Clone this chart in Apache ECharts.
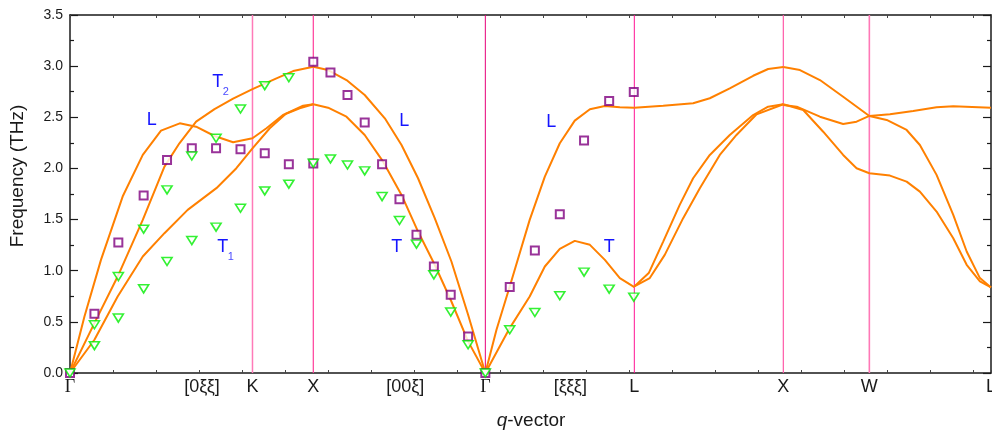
<!DOCTYPE html>
<html>
<head>
<meta charset="utf-8">
<script src="https://cdn.jsdelivr.net/npm/echarts@6/dist/echarts.min.js"></script>
<style>
html,body{margin:0;padding:0;background:#fff;}
#phonon{width:992px;height:435px;}
</style>
</head>
<body>
<div id="phonon"></div>
<script>
// 高对称点 (单位 2π/a)
var symPts   = [0, 1.0607, 1.4142, 2.4142, 3.2802, 4.1463, 4.6463, 5.3534];
var symNames = ['Γ', 'K', 'X', 'Γ', 'L', 'X', 'W', 'L'];
var dirPos   = [0.767, 1.949, 2.908];
var dirNames = ['[0ξξ]', '[00ξ]', '[ξξξ]'];
var vlinePos = [1.0607, 1.4142, 2.4142, 3.2802, 4.1463, 4.6463];

// 计算色散曲线 [q, f(THz)]
// Γ-K-X
var gxL  = [[0,0],[0.084,0.553],[0.180,1.106],[0.306,1.725],[0.423,2.132],[0.529,2.369],[0.638,2.441],[0.733,2.408],[0.840,2.317],[0.948,2.256],[1.0607,2.295],[1.142,2.393],[1.238,2.522],[1.335,2.588],[1.4142,2.627]];
var gxT2 = [[0,0],[0.142,0.488],[0.277,0.943],[0.423,1.497],[0.549,2.018],[0.636,2.246],[0.733,2.457],[0.840,2.580],[0.948,2.682],[1.0607,2.776],[1.200,2.881],[1.297,2.952],[1.4142,2.994]];
var gxT1 = [[0,0],[0.142,0.325],[0.277,0.748],[0.423,1.139],[0.549,1.367],[0.684,1.595],[0.851,1.807],[0.967,2.002],[1.0607,2.197],[1.161,2.393],[1.258,2.539],[1.355,2.613],[1.4142,2.627]];
// X-Γ
var xgL  = [[1.4142,2.994],[1.500,2.962],[1.607,2.864],[1.713,2.718],[1.830,2.490],[1.927,2.229],[2.023,1.904],[2.120,1.514],[2.217,1.090],[2.314,0.569],[2.4142,0]];
var xgT  = [[1.4142,2.627],[1.500,2.594],[1.607,2.506],[1.713,2.327],[1.820,2.066],[1.927,1.741],[2.023,1.383],[2.120,1.058],[2.217,0.699],[2.314,0.309],[2.4142,0]];
// Γ-L
var glL  = [[2.4142,0],[2.479,0.423],[2.556,0.846],[2.672,1.497],[2.760,1.920],[2.847,2.246],[2.934,2.467],[3.022,2.578],[3.109,2.610],[3.196,2.598],[3.2802,2.594]];
var glT  = [[2.4142,0],[2.556,0.439],[2.672,0.748],[2.760,1.041],[2.847,1.214],[2.934,1.292],[3.022,1.253],[3.109,1.106],[3.196,0.928],[3.2802,0.840]];
// L-X
var lxU  = [[3.2802,2.594],[3.448,2.613],[3.622,2.637],[3.719,2.686],[3.835,2.783],[3.971,2.906],[4.058,2.972],[4.1463,2.991]];
var lxA  = [[3.2802,0.846],[3.364,0.977],[3.448,1.285],[3.544,1.644],[3.622,1.904],[3.719,2.132],[3.835,2.327],[3.971,2.522],[4.058,2.604],[4.1463,2.627]];
var lxB  = [[3.2802,0.846],[3.370,0.928],[3.457,1.155],[3.564,1.514],[3.661,1.807],[3.777,2.132],[3.874,2.327],[3.991,2.529],[4.1463,2.627]];
// X-W-L
var xwU  = [[4.1463,2.991],[4.243,2.962],[4.359,2.864],[4.494,2.701],[4.6463,2.513]];
var xwM  = [[4.1463,2.620],[4.224,2.604],[4.359,2.506],[4.494,2.435],[4.572,2.457],[4.6463,2.513]];
var wlF  = [[4.6463,2.513],[4.766,2.529],[4.901,2.562],[5.037,2.598],[5.134,2.607],[5.3534,2.594]];
var wlD  = [[4.6463,2.513],[4.747,2.474],[4.863,2.376],[4.940,2.229],[5.037,1.937],[5.134,1.546],[5.212,1.188],[5.289,0.928],[5.3534,0.836]];
var xwlL = [[4.1463,2.627],[4.262,2.571],[4.378,2.359],[4.494,2.132],[4.572,2.002],[4.6463,1.953],[4.766,1.930],[4.863,1.871],[4.940,1.773],[5.037,1.578],[5.134,1.318],[5.212,1.058],[5.289,0.895],[5.3534,0.836]];

// 实验点
var expL = [[0,0],[0.142,0.579],[0.281,1.276],[0.428,1.735],[0.564,2.083],[0.708,2.197],[0.849,2.197],[0.991,2.188],[1.132,2.148],[1.272,2.041],[1.4142,2.047],[1.4142,3.043],
  [1.514,2.939],[1.613,2.718],[1.713,2.448],[1.814,2.041],[1.915,1.699],[2.014,1.351],[2.115,1.041],[2.213,0.765],[2.314,0.358],[2.4142,0],
  [2.556,0.840],[2.702,1.197],[2.847,1.553],[2.988,2.272],[3.134,2.659],[3.277,2.747]];
var expT = [[0,0],[0.142,0.472],[0.142,0.267],[0.281,0.943],[0.281,0.537],[0.428,1.406],[0.428,0.823],[0.564,1.790],[0.564,1.090],[0.708,2.122],[0.708,1.295],
  [0.849,2.295],[0.849,1.426],[0.991,2.581],[0.991,1.611],[1.132,2.809],[1.132,1.780],[1.272,2.887],[1.272,1.846],[1.4142,2.051],
  [1.514,2.093],[1.613,2.034],[1.713,1.976],[1.814,1.725],[1.915,1.491],[2.014,1.260],[2.115,0.960],[2.213,0.596],[2.314,0.276],[2.4142,0],
  [2.556,0.423],[2.702,0.592],[2.847,0.755],[2.988,0.986],[3.134,0.820],[3.277,0.742]];

// 模式标注 [文字, 下标, q, f]
var modeTags = [['L','',0.475,2.474],['T','2',0.859,2.845],['T','1',0.888,1.229],['L','',1.943,2.459],['T','',1.899,1.229],['L','',2.798,2.449],['T','',3.135,1.233]];

var vlineColors = ['#ff7ab8', '#ff3d9a', '#e6007a', '#ff1493', '#ff5aa8', '#ff78b6'];
var vlineWidths = [1.5, 1.2, 1, 1, 1.2, 1.6];

var chart = echarts.init(document.getElementById('phonon'));

var sans = 'Liberation Sans, Arial, sans-serif';
var axisColor = '#1a1a1a';

var series = [];
vlinePos.forEach(function (q, i) {
    series.push({
        type: 'line', silent: true, symbol: 'none', z: 2,
        data: [[q, 0], [q, 3.5]],
        lineStyle: {color: vlineColors[i], width: vlineWidths[i]}
    });
});
[gxL, gxT2, gxT1, xgL, xgT, glL, glT, lxU, lxA, lxB, xwU, xwM, wlF, wlD, xwlL].forEach(function (d) {
    series.push({
        type: 'line', silent: true, symbol: 'none', z: 3,
        data: d,
        lineStyle: {color: '#ff8000', width: 2}
    });
});
series.push({
    type: 'scatter', data: expL, symbol: 'rect', symbolSize: 8, z: 4,
    itemStyle: {color: '#fff', borderColor: '#800080', borderWidth: 2}
});
series.push({
    type: 'scatter', data: expT, symbol: 'triangle', symbolRotate: 180, symbolSize: [10, 8], z: 5,
    itemStyle: {color: '#fff', borderColor: '#00ee00', borderWidth: 1.6}
});

function xAx(pos) {
    return {
        type: 'value', position: pos, min: 0, max: 5.3534, interval: 0.25,
        axisLine: {show: true, onZero: false, lineStyle: {color: axisColor, width: 1.5}},
        axisTick: {show: true, inside: true, length: 3, lineStyle: {color: '#444'}},
        axisLabel: {show: false},
        splitLine: {show: false}
    };
}
function yAx(pos, lab) {
    return {
        type: 'value', position: pos, min: 0, max: 3.5, interval: 0.5,
        axisLine: {show: true, onZero: false, lineStyle: {color: axisColor, width: 1.5}},
        axisTick: {show: true, inside: true, length: 8, lineStyle: {color: axisColor, width: 1.2}},
        minorTick: {show: true, splitNumber: 2, length: 4, lineStyle: {color: axisColor, width: 1.2}},
        axisLabel: {show: lab, fontSize: 14, color: axisColor, fontFamily: sans, margin: 7,
            formatter: function (v) { return v.toFixed(1); }},
        splitLine: {show: false}
    };
}

option = {
    animation: false,
    grid: {left: 70, right: 1, top: 15, bottom: 62, containLabel: false, outerBoundsMode: 'none'},
    xAxis: [xAx('bottom'), xAx('top')],
    yAxis: [yAx('left', true), yAx('right', false)],
    series: series
};
chart.setOption(option);

// 文字标注
var gr = [];
symPts.forEach(function (q, i) {
    var p = chart.convertToPixel({gridIndex: 0}, [q, 0]);
    gr.push({type: 'text', x: p[0], y: p[1] + 14, z: 10, style: {
        text: symNames[i], fill: axisColor, align: 'center', verticalAlign: 'middle',
        fontSize: 18, fontFamily: symNames[i] === 'Γ' ? 'Liberation Serif, serif' : sans}});
});
dirPos.forEach(function (q, i) {
    var p = chart.convertToPixel({gridIndex: 0}, [q, 0]);
    gr.push({type: 'text', x: p[0], y: p[1] + 14, z: 10, style: {
        text: dirNames[i], fill: axisColor, align: 'center', verticalAlign: 'middle',
        fontSize: 18, fontFamily: sans}});
});
modeTags.forEach(function (t) {
    var p = chart.convertToPixel({gridIndex: 0}, [t[2], t[3]]);
    gr.push({type: 'text', x: p[0], y: p[1], z: 10, style: {
        text: t[0], fill: '#1515ff', align: 'center', verticalAlign: 'middle', fontSize: 18, fontFamily: sans}});
    if (t[1]) {
        gr.push({type: 'text', x: p[0] + 8, y: p[1] + 10, z: 10, style: {
            text: t[1], fill: '#4a4aff', align: 'center', verticalAlign: 'middle', fontSize: 11, fontFamily: sans}});
    }
});
gr.push({type: 'text', x: 18, y: 176, rotation: Math.PI / 2, z: 10, style: {
    text: 'Frequency (THz)', fill: axisColor, align: 'center', verticalAlign: 'middle', fontSize: 19, fontFamily: sans}});
gr.push({type: 'text', x: 531, y: 421, z: 10, style: {
    text: '{i|q}{n|-vector}', align: 'center', verticalAlign: 'middle',
    rich: {
        i: {fontStyle: 'italic', fontSize: 19, fontFamily: sans, fill: axisColor},
        n: {fontSize: 19, fontFamily: sans, fill: axisColor}
    }}});
chart.setOption({graphic: gr});
</script>
</body>
</html>
